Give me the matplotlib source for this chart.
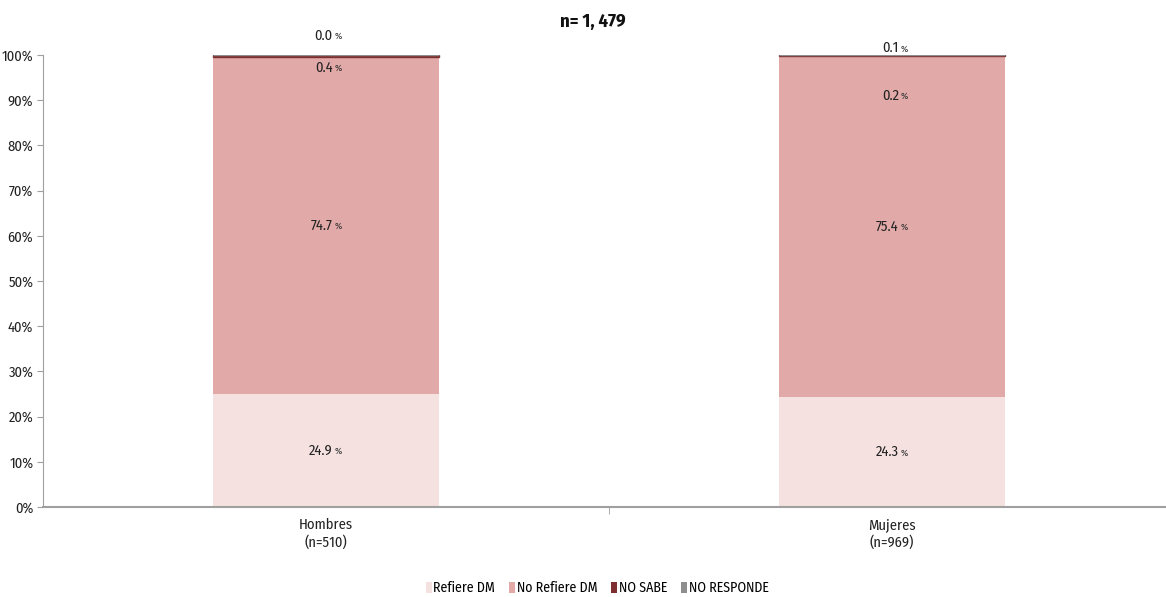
import matplotlib
matplotlib.use("Agg")
import matplotlib.pyplot as plt
from matplotlib.patches import Patch
import matplotlib.transforms as mtransforms
from matplotlib import font_manager

categories = ["Hombres\n(n=510)", "Mujeres\n(n=969)"]
series_names = ["Refiere DM", "No Refiere DM", "NO SABE", "NO RESPONDE"]
refiere = [24.9, 24.3]
no_refiere = [74.7, 75.4]
no_sabe = [0.4, 0.2]
no_responde = [0.0, 0.1]
title = "n= 1, 479"
y_ticks = [0, 10, 20, 30, 40, 50, 60, 70, 80, 90, 100]

colors = ["#F4E1E0", "#E1A9A7", "#7F2F2F", "#8E8E8E"]
# pixel offsets (points) for labels of thin segments, relative to segment top
small_offsets = {(0, 2): -9, (0, 3): 14, (1, 2): -29, (1, 3): 5}

names = {f.name for f in font_manager.fontManager.ttflist}
fam = 'DejaVu Sans'
for cand in ['Fira Sans Condensed', 'Roboto Condensed', 'PT Sans Narrow', 'Archivo Narrow',
             'Open Sans Condensed', 'Liberation Sans Narrow']:
    if cand in names:
        fam = cand
        break
plt.rcParams['font.family'] = [fam, 'DejaVu Sans']

fig = plt.figure(figsize=(11.66, 5.97), dpi=100)
ax = fig.add_axes([43 / 1166, 1 - 507 / 597, 1 - 43 / 1166, (507 - 55) / 597])

series = [refiere, no_refiere, no_sabe, no_responde]
x = list(range(len(categories)))
bottoms = [0.0] * len(categories)
width = 0.40
for si, vals in enumerate(series):
    ax.bar(x, vals, width, bottom=bottoms, color=colors[si],
           edgecolor=colors[si] if si >= 2 else 'none', linewidth=1.0, zorder=2 + si * 0.1)
    for ci, v in enumerate(vals):
        top = bottoms[ci] + v
        if v >= 2:
            ypos = bottoms[ci] + v / 2
            off = 0
        else:
            ypos = top
            off = small_offsets[(ci, si)]
        base = mtransforms.offset_copy(ax.transData, fig=fig, x=0, y=off, units='points')
        ax.text(x[ci] + 0.012, ypos, f"{v:.1f}", transform=base, ha='right', va='center',
                fontsize=10.5, color='#222222', zorder=5)
        pt = mtransforms.offset_copy(ax.transData, fig=fig, x=1.5, y=off - 0.5, units='points')
        ax.text(x[ci] + 0.012, ypos, "%", transform=pt, ha='left', va='center',
                fontsize=7, color='#333333', zorder=5)
    bottoms = [b + v for b, v in zip(bottoms, vals)]

ax.set_xlim(-0.5, 1.5 - 9 / 566)
ax.set_ylim(0, 100)
ax.set_yticks(y_ticks)
ax.set_yticklabels([f"{t}%" for t in y_ticks], fontsize=10.5, color='#222222')
ax.set_xticks(x)
ax.set_xticklabels(categories, fontsize=10.5, color='#222222')
ax.set_xticks([0.5], minor=True)
ax.tick_params(axis='x', which='major', length=0, pad=8)
ax.tick_params(axis='x', which='minor', length=5, color='#A0A0A0', direction='out')
ax.tick_params(axis='y', length=4, color='#A0A0A0', direction='out', pad=3)
for s in ['top', 'right']:
    ax.spines[s].set_visible(False)
ax.spines['left'].set_color('#A0A0A0')
ax.spines['bottom'].set_color('#A0A0A0')
ax.spines['bottom'].set_linewidth(1.5)

fig.text(593 / 1166, 1 - 22 / 597, title, ha='center', va='center', fontsize=13.5,
         fontweight='bold', color='#111111')

handles = [Patch(facecolor=c, edgecolor='none') for c in colors]
fig.legend(handles, series_names, loc='center', bbox_to_anchor=(597 / 1166, 1 - 588 / 597),
           ncol=4, frameon=False, fontsize=10, handlelength=0.45, handleheight=0.85,
           handletextpad=0.1, columnspacing=1.0)

fig.savefig("out.png", dpi=100)
